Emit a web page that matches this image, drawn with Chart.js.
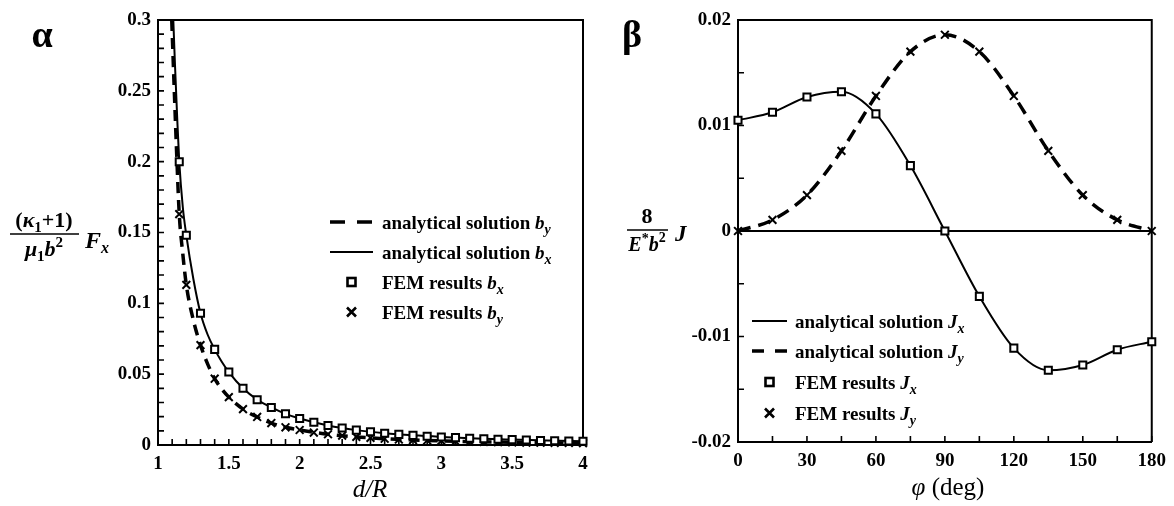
<!DOCTYPE html>
<html>
<head>
<meta charset="utf-8">
<script src="https://cdn.jsdelivr.net/npm/chart.js@4.4.0/dist/chart.umd.min.js"></script>
<style>
  html, body { margin: 0; padding: 0; background: #fff; }
  .panel { position: absolute; top: 0; height: 506px; }
  #left { left: 0; width: 600px; }
  #right { left: 600px; width: 574px; }
</style>
</head>
<body>
<div class="panel" id="left"><canvas id="chartA"></canvas></div>
<div class="panel" id="right"><canvas id="chartB"></canvas></div>
<script>
// panel alpha: force against d/R
const dFem = [1.15, 1.2, 1.3, 1.4, 1.5, 1.6, 1.7, 1.8, 1.9, 2.0,
              2.1, 2.2, 2.3, 2.4, 2.5, 2.6, 2.7, 2.8, 2.9, 3.0,
              3.1, 3.2, 3.3, 3.4, 3.5, 3.6, 3.7, 3.8, 3.9, 4.0];
const bxFem = [0.200, 0.148, 0.093, 0.0675, 0.0515, 0.040, 0.032, 0.0265, 0.022, 0.0187,
               0.016, 0.0138, 0.012, 0.0105, 0.0093, 0.0083, 0.0075, 0.0068, 0.0062, 0.0057,
               0.0052, 0.0048, 0.0044, 0.0041, 0.0038, 0.0035, 0.0032, 0.0030, 0.0028, 0.0026];
const byFem = [0.163, 0.113, 0.0705, 0.0468, 0.0338, 0.0253, 0.0198, 0.0155, 0.0125, 0.0106,
               0.0088, 0.0076, 0.0066, 0.0057, 0.0050, 0.0044, 0.0039, 0.0035, 0.0032, 0.0029,
               0.0026, 0.0024, 0.0022, 0.0020, 0.0019, 0.0017, 0.0016, 0.0015, 0.0014, 0.0013];
const bxLineD = [1.108, 1.12, 1.135, 1.15, 1.175, 1.2, 1.25, 1.3, 1.35, 1.4, 1.45, 1.5, 1.6, 1.7,
                 1.8, 1.9, 2.0, 2.2, 2.4, 2.6, 2.8, 3.0, 3.25, 3.5, 3.75, 4.0];
const bxLine = [0.300, 0.268, 0.232, 0.200, 0.168, 0.148, 0.117, 0.093, 0.078, 0.0675, 0.0588, 0.0515, 0.040, 0.032,
                0.0265, 0.022, 0.0187, 0.0138, 0.0105, 0.0083, 0.0068, 0.0057, 0.0046, 0.0038, 0.0031, 0.0026];
const byLineD = [1.097, 1.115, 1.132, 1.15, 1.175, 1.2, 1.25, 1.3, 1.35, 1.4, 1.45, 1.5, 1.6, 1.7,
                 1.8, 1.9, 2.0, 2.2, 2.4, 2.6, 2.8, 3.0, 3.25, 3.5, 3.75, 4.0];
const byLine = [0.300, 0.250, 0.205, 0.163, 0.135, 0.113, 0.088, 0.0705, 0.0573, 0.0468, 0.0395, 0.0338, 0.0253, 0.0198,
                0.0155, 0.0125, 0.0106, 0.0076, 0.0057, 0.0044, 0.0035, 0.0029, 0.0023, 0.0019, 0.0016, 0.0013];
const dTicks = [1, 1.5, 2, 2.5, 3, 3.5, 4];
const dTickLabels = ['1', '1.5', '2', '2.5', '3', '3.5', '4'];
const fTicks = [0, 0.05, 0.1, 0.15, 0.2, 0.25, 0.3];
const fTickLabels = ['0', '0.05', '0.1', '0.15', '0.2', '0.25', '0.3'];

// panel beta: J against phi
const phi = [0, 15, 30, 45, 60, 75, 90, 105, 120, 135, 150, 165, 180];
const jx = [0.0105, 0.01125, 0.0127, 0.0132, 0.0111, 0.0062, 0, -0.0062, -0.0111, -0.0132, -0.0127, -0.01125, -0.0105];
const jy = [0, 0.00105, 0.0034, 0.0076, 0.0128, 0.0170, 0.0186, 0.0170, 0.0128, 0.0076, 0.0034, 0.00105, 0];
const phiTicks = [0, 30, 60, 90, 120, 150, 180];
const phiTickLabels = ['0', '30', '60', '90', '120', '150', '180'];
const jTicks = [-0.02, -0.01, 0, 0.01, 0.02];
const jTickLabels = ['-0.02', '-0.01', '0', '0.01', '0.02'];

const serif = '"Liberation Serif", "Times New Roman", serif';
const F = (style, size) => `${style} ${size}px ${serif}`;
const pts = (xs, ys) => xs.map((x, i) => ({ x: x, y: ys[i] }));

function richWidth(ctx, parts) {
  let w = 0;
  for (const p of parts) { ctx.font = p.f; w += ctx.measureText(p.t).width; }
  return w;
}
function drawRich(ctx, x, y, parts, center) {
  if (center) x -= richWidth(ctx, parts) / 2;
  ctx.textAlign = 'left';
  ctx.textBaseline = 'alphabetic';
  ctx.fillStyle = '#000';
  for (const p of parts) {
    ctx.font = p.f;
    ctx.fillText(p.t, x, y + (p.dy || 0));
    x += ctx.measureText(p.t).width;
  }
}

function drawBox(chart) {
  const a = chart.chartArea, ctx = chart.ctx;
  ctx.save();
  ctx.strokeStyle = '#000';
  ctx.lineWidth = 2;
  ctx.beginPath();
  ctx.moveTo(a.left, a.top);
  ctx.lineTo(a.right, a.top);
  ctx.lineTo(a.right, a.bottom);
  ctx.stroke();
  ctx.restore();
}

function minorTicks(chart, id, from, to, step, len) {
  const s = chart.scales[id], a = chart.chartArea, ctx = chart.ctx;
  const n = Math.round((to - from) / step);
  ctx.save();
  ctx.strokeStyle = '#000';
  ctx.lineWidth = 1.6;
  ctx.beginPath();
  for (let i = 0; i <= n; i++) {
    const p = s.getPixelForValue(from + i * step);
    if (s.isHorizontal()) { ctx.moveTo(p, a.bottom); ctx.lineTo(p, a.bottom - len); }
    else { ctx.moveTo(a.left, p); ctx.lineTo(a.left + len, p); }
  }
  ctx.stroke();
  ctx.restore();
}

function drawLegend(ctx, items, x0, x1, xt, ys, dash) {
  ctx.save();
  ctx.strokeStyle = '#000';
  items.forEach((it, i) => {
    const y = ys[i];
    const xm = (x0 + x1) / 2;
    ctx.beginPath();
    if (it.kind === 'solid') {
      ctx.setLineDash([]); ctx.lineWidth = 2;
      ctx.moveTo(x0, y); ctx.lineTo(x1, y); ctx.stroke();
    } else if (it.kind === 'dash') {
      ctx.setLineDash(dash); ctx.lineWidth = 3.5;
      ctx.moveTo(x0, y); ctx.lineTo(x1, y); ctx.stroke();
    } else if (it.kind === 'square') {
      ctx.setLineDash([]); ctx.lineWidth = 2.6;
      ctx.strokeRect(xm - 4, y - 4, 8, 8);
    } else {
      ctx.setLineDash([]); ctx.lineWidth = 2.6;
      ctx.moveTo(xm - 4.5, y - 4.5); ctx.lineTo(xm + 4.5, y + 4.5);
      ctx.moveTo(xm + 4.5, y - 4.5); ctx.lineTo(xm - 4.5, y + 4.5);
      ctx.stroke();
    }
    ctx.setLineDash([]);
    drawRich(ctx, xt, y + 6.5, it.label, false);
  });
  ctx.restore();
}

const sub = (main, s) => [
  { t: main, f: F('italic bold', 19) },
  { t: s, f: F('italic bold', 14), dy: 5 }
];

const decoA = {
  id: 'decoA',
  beforeDatasetsDraw(chart) {
    drawBox(chart);
    minorTicks(chart, 'x', 1, 4, 0.1, 6);
    minorTicks(chart, 'y', 0, 0.3, 0.01, 6);
  },
  afterDraw(chart) {
    const ctx = chart.ctx;
    ctx.save();
    drawRich(ctx, 42, 47, [{ t: 'α', f: F('bold', 38) }], true);
    // y title
    drawRich(ctx, 44, 227, [
      { t: '(', f: F('bold', 22) }, { t: 'κ', f: F('italic bold', 22) },
      { t: '1', f: F('bold', 15), dy: 5 }, { t: '+1)', f: F('bold', 22) }
    ], true);
    ctx.strokeStyle = '#000'; ctx.lineWidth = 1.5;
    ctx.beginPath(); ctx.moveTo(10, 234); ctx.lineTo(79, 234); ctx.stroke();
    drawRich(ctx, 44, 256, [
      { t: 'μ', f: F('italic bold', 22) }, { t: '1', f: F('bold', 15), dy: 5 },
      { t: 'b', f: F('italic bold', 22) }, { t: '2', f: F('bold', 15), dy: -9 }
    ], true);
    drawRich(ctx, 85, 248, [
      { t: 'F', f: F('italic bold', 24) }, { t: 'x', f: F('italic bold', 16), dy: 5 }
    ], false);
    // x title
    drawRich(ctx, 370, 497, [
      { t: 'd', f: F('italic', 25) }, { t: '/', f: F('italic', 25) }, { t: 'R', f: F('italic', 25) }
    ], true);
    drawLegend(ctx, [
      { kind: 'dash', label: [{ t: 'analytical solution ', f: F('bold', 19) }].concat(sub('b', 'y')) },
      { kind: 'solid', label: [{ t: 'analytical solution ', f: F('bold', 19) }].concat(sub('b', 'x')) },
      { kind: 'square', label: [{ t: 'FEM results ', f: F('bold', 19) }].concat(sub('b', 'x')) },
      { kind: 'cross', label: [{ t: 'FEM results ', f: F('bold', 19) }].concat(sub('b', 'y')) }
    ], 330, 373, 382, [222, 252, 282, 312], [15, 12]);
    ctx.restore();
  }
};

const decoB = {
  id: 'decoB',
  beforeDatasetsDraw(chart) {
    drawBox(chart);
    minorTicks(chart, 'x', 0, 180, 15, 6);
    minorTicks(chart, 'y', -0.02, 0.02, 0.005, 6);
    const a = chart.chartArea, ctx = chart.ctx;
    const y0 = chart.scales.y.getPixelForValue(0);
    ctx.save();
    ctx.strokeStyle = '#000'; ctx.lineWidth = 2;
    ctx.beginPath(); ctx.moveTo(a.left, y0); ctx.lineTo(a.right, y0); ctx.stroke();
    ctx.restore();
  },
  afterDraw(chart) {
    const ctx = chart.ctx;
    ctx.save();
    drawRich(ctx, 32, 47, [{ t: 'β', f: F('bold', 38) }], true);
    drawRich(ctx, 47, 223, [{ t: '8', f: F('bold', 22) }], true);
    ctx.strokeStyle = '#000'; ctx.lineWidth = 1.5;
    ctx.beginPath(); ctx.moveTo(27, 230); ctx.lineTo(68, 230); ctx.stroke();
    drawRich(ctx, 47, 251, [
      { t: 'E', f: F('italic bold', 20) }, { t: '*', f: F('bold', 14), dy: -8 },
      { t: 'b', f: F('italic bold', 20) }, { t: '2', f: F('bold', 14), dy: -9 }
    ], true);
    drawRich(ctx, 75, 241, [{ t: 'J', f: F('italic bold', 23) }], false);
    drawRich(ctx, 348, 495, [
      { t: 'φ', f: F('italic', 25) }, { t: ' (deg)', f: F('', 25) }
    ], true);
    drawLegend(ctx, [
      { kind: 'solid', label: [{ t: 'analytical solution ', f: F('bold', 19) }].concat(sub('J', 'x')) },
      { kind: 'dash', label: [{ t: 'analytical solution ', f: F('bold', 19) }].concat(sub('J', 'y')) },
      { kind: 'square', label: [{ t: 'FEM results ', f: F('bold', 19) }].concat(sub('J', 'x')) },
      { kind: 'cross', label: [{ t: 'FEM results ', f: F('bold', 19) }].concat(sub('J', 'y')) }
    ], 152, 187, 195, [321, 351, 382, 413], [12, 11]);
    ctx.restore();
  }
};

function axis(min, max, ticks, labels, fit, horizontal) {
  return {
    type: 'linear', min: min, max: max,
    afterFit: s => { if (horizontal) s.height = fit; else s.width = fit; },
    afterBuildTicks: s => { s.ticks = ticks.map(v => ({ value: v })); },
    grid: { display: false, drawTicks: false },
    border: { display: true, color: '#000', width: 2 },
    ticks: {
      color: '#000', padding: horizontal ? 8 : 7, autoSkip: false, maxRotation: 0,
      font: { family: serif, size: 19, weight: 'bold' },
      callback: (v, i) => labels[i]
    }
  };
}

const baseOpts = (padRight) => ({
  responsive: true,
  maintainAspectRatio: false,
  animation: false,
  layout: { padding: { left: 0, right: padRight, top: 20, bottom: 0 } },
  plugins: { legend: { display: false }, tooltip: { enabled: false }, title: { display: false } }
});

const lineSet = (data, width, dash) => ({
  data: data, showLine: true, borderColor: '#000', borderWidth: width, borderDash: dash,
  pointRadius: 0, cubicInterpolationMode: 'monotone', fill: false
});
const squareSet = data => ({
  data: data, showLine: false, pointStyle: 'rect', pointRadius: 5, borderWidth: 2,
  borderColor: '#000', backgroundColor: '#fff', clip: false
});
const crossSet = data => ({
  data: data, showLine: false, pointStyle: 'crossRot', pointRadius: 5.5, borderWidth: 2,
  borderColor: '#000', backgroundColor: '#000', clip: false
});

const optsA = baseOpts(17);
optsA.scales = {
  x: axis(1, 4, dTicks, dTickLabels, 61, true),
  y: axis(0, 0.3, fTicks, fTickLabels, 158, false)
};
new Chart(document.getElementById('chartA'), {
  type: 'scatter',
  data: {
    datasets: [
      squareSet(pts(dFem, bxFem)),
      crossSet(pts(dFem, byFem)),
      lineSet(pts(bxLineD, bxLine), 2, []),
      lineSet(pts(byLineD, byLine), 3.5, [11, 7])
    ]
  },
  options: optsA,
  plugins: [decoA]
});

const optsB = baseOpts(16);
optsB.scales = {
  x: axis(0, 180, phiTicks, phiTickLabels, 64, true),
  y: axis(-0.02, 0.02, jTicks, jTickLabels, 138, false)
};
new Chart(document.getElementById('chartB'), {
  type: 'scatter',
  data: {
    datasets: [
      squareSet(pts(phi, jx)),
      crossSet(pts(phi, jy)),
      lineSet(pts(phi, jx), 2, []),
      lineSet(pts(phi, jy), 3.5, [13, 8])
    ]
  },
  options: optsB,
  plugins: [decoB]
});
</script>
</body>
</html>
